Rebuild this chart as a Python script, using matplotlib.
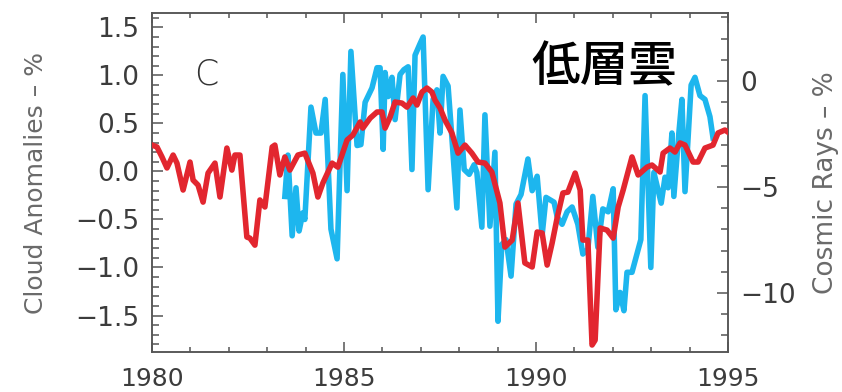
import matplotlib
matplotlib.use("Agg")
import matplotlib.pyplot as plt
from matplotlib.ticker import MultipleLocator

# cloud anomalies (%), left axis
cloud_year = [1983.46, 1983.54, 1983.65, 1983.75, 1983.83, 1983.93, 1983.98, 1984.14, 1984.27, 1984.40,
              1984.51, 1984.66, 1984.82, 1984.97, 1985.08, 1985.18, 1985.34, 1985.44, 1985.55, 1985.73,
              1985.86, 1985.94, 1986.02, 1986.07, 1986.15, 1986.25, 1986.33, 1986.46, 1986.56, 1986.67,
              1986.77, 1986.85, 1986.98, 1987.06, 1987.19, 1987.32, 1987.42, 1987.50, 1987.58, 1987.71,
              1987.81, 1987.94, 1988.02, 1988.13, 1988.26, 1988.39, 1988.46, 1988.59, 1988.67, 1988.80,
              1988.93, 1989.01, 1989.11, 1989.22, 1989.35, 1989.48, 1989.61, 1989.79, 1989.90, 1990.03,
              1990.16, 1990.26, 1990.47, 1990.55, 1990.68, 1990.81, 1990.94, 1991.09, 1991.22, 1991.35,
              1991.48, 1991.61, 1991.74, 1991.88, 1992.01, 1992.08, 1992.19, 1992.29, 1992.37, 1992.50,
              1992.73, 1992.84, 1992.99, 1993.07, 1993.26, 1993.36, 1993.44, 1993.54, 1993.59, 1993.72,
              1993.80, 1993.88, 1994.04, 1994.14, 1994.27, 1994.40, 1994.53, 1994.61]
cloud_anom = [-0.26, 0.17, -0.67, -0.17, -0.62, -0.43, -0.50, 0.67, 0.40, 0.40,
              0.75, -0.60, -0.91, 1.01, -0.20, 1.25, 0.27, 0.28, 0.72, 0.87,
              1.08, 1.08, 0.23, 1.03, 0.78, 0.98, 0.54, 1.01, 1.06, 1.09,
              0.02, 1.21, 1.33, 1.40, -0.19, 0.75, 0.85, 0.40, 0.99, 0.89,
              0.35, -0.38, 0.64, 0.02, -0.03, 0.07, -0.01, -0.58, 0.59, -0.57,
              0.20, -1.56, -0.76, -0.71, -1.09, -0.34, -0.24, 0.13, -0.20, -0.05,
              -0.66, -0.27, -0.32, -0.47, -0.55, -0.42, -0.37, -0.55, -0.86, -0.81,
              -0.26, -0.79, -0.39, -0.42, -0.18, -1.44, -1.26, -1.45, -1.05, -1.05,
              -0.71, 0.79, -1.00, -0.01, -0.33, -0.06, -0.17, 0.40, -0.26, 0.40,
              0.75, -0.21, 0.90, 0.98, 0.79, 0.75, 0.57, 0.35]

# cosmic rays (%), right axis
cosmic_year = [1980.00, 1980.13, 1980.26, 1980.39, 1980.55, 1980.65, 1980.81, 1980.99, 1981.07, 1981.20,
               1981.33, 1981.46, 1981.64, 1981.77, 1981.95, 1982.08, 1982.16, 1982.29, 1982.47, 1982.55,
               1982.68, 1982.81, 1982.94, 1983.13, 1983.20, 1983.33, 1983.46, 1983.59, 1983.80, 1983.98,
               1984.19, 1984.32, 1984.45, 1984.69, 1984.84, 1985.08, 1985.23, 1985.42, 1985.49, 1985.68,
               1985.86, 1985.99, 1986.07, 1986.20, 1986.33, 1986.51, 1986.64, 1986.80, 1986.90, 1987.03,
               1987.16, 1987.29, 1987.37, 1987.50, 1987.63, 1987.81, 1987.97, 1988.15, 1988.33, 1988.49,
               1988.67, 1988.85, 1989.06, 1989.19, 1989.38, 1989.53, 1989.71, 1989.90, 1990.03, 1990.16,
               1990.29, 1990.42, 1990.55, 1990.70, 1990.83, 1991.02, 1991.15, 1991.22, 1991.35, 1991.46,
               1991.54, 1991.67, 1991.85, 1992.01, 1992.14, 1992.27, 1992.50, 1992.66, 1992.89, 1993.02,
               1993.23, 1993.31, 1993.49, 1993.62, 1993.75, 1993.88, 1994.09, 1994.22, 1994.40, 1994.61,
               1994.74, 1994.92, 1995.00]
cosmic_pct = [-3.02, -3.11, -3.58, -4.10, -3.49, -3.87, -5.14, -3.82, -4.67, -4.91,
              -5.71, -4.34, -3.87, -5.47, -3.16, -4.20, -3.49, -3.49, -7.36, -7.41,
              -7.74, -5.61, -5.94, -3.11, -3.02, -4.43, -3.58, -4.20, -3.49, -3.40,
              -4.34, -5.47, -4.81, -3.87, -4.06, -2.78, -2.55, -1.93, -2.22, -1.75,
              -1.46, -1.46, -2.22, -1.70, -0.99, -1.04, -1.23, -0.80, -1.13, -0.52,
              -0.33, -0.52, -0.90, -1.27, -1.84, -2.45, -3.40, -3.02, -3.40, -3.82,
              -3.87, -4.29, -5.75, -7.83, -7.50, -5.75, -8.58, -8.77, -7.12, -7.17,
              -8.68, -7.64, -6.46, -5.28, -5.24, -4.34, -5.14, -7.50, -7.50, -12.45,
              -12.22, -6.93, -7.03, -7.41, -5.94, -5.14, -3.58, -4.43, -4.06, -3.96,
              -4.29, -3.40, -3.16, -3.35, -2.92, -3.02, -3.82, -3.82, -3.16, -3.02,
              -2.45, -2.31, -2.41]

year_ticks = [1980, 1985, 1990, 1995]

tick_col = "#3c3c3c"
label_col = "#6a6a6a"
spine_col = "#555555"

fig = plt.figure(figsize=(8.42, 3.92), dpi=100)
ax = fig.add_axes([152 / 842, 1 - 352 / 392, 576 / 842, 339 / 392])
ax2 = ax.twinx()

ax.plot(cloud_year, cloud_anom, color="#1db6ee", lw=4.0, zorder=2)
ax2.plot(cosmic_year, cosmic_pct, color="#e2262f", lw=4.0, zorder=3)

ax.set_xlim(1980, 1995)
ax.set_ylim(-1.88, 1.65)
ax2.set_ylim(-12.78, 3.21)

ax.set_xticks(year_ticks)
ax.xaxis.set_minor_locator(MultipleLocator(1))
ax.yaxis.set_major_locator(MultipleLocator(0.5))
ax.yaxis.set_minor_locator(MultipleLocator(0.1))
ax.yaxis.set_major_formatter(lambda v, p: f"{v:.1f}".replace("-", "\u2212"))
ax2.yaxis.set_major_locator(MultipleLocator(5))
ax2.yaxis.set_minor_locator(MultipleLocator(1))

for a in (ax, ax2):
    for s in a.spines.values():
        s.set_color(spine_col)
        s.set_linewidth(1.1)

ax.tick_params(axis="y", which="major", direction="in", length=8, width=1.1,
               color=spine_col, labelsize=19, labelcolor=tick_col, pad=9)
ax.tick_params(axis="y", which="minor", direction="in", length=5, width=1.1, color=spine_col)
ax.tick_params(axis="x", which="major", direction="in", length=7, width=1.1, top=True,
               color=spine_col, labelsize=18, labelcolor=tick_col, pad=11)
ax.tick_params(axis="x", which="minor", direction="in", length=3.5, width=1.1, top=True, color=spine_col)
ax2.tick_params(axis="y", which="major", direction="in", length=8, width=1.1,
                color=spine_col, labelsize=19, labelcolor=tick_col, pad=9)
ax2.tick_params(axis="y", which="minor", direction="in", length=5, width=1.1, color=spine_col)

ax.set_ylabel("Cloud Anomalies \u2013 %", fontsize=18, color=label_col, labelpad=20)
ax2.set_ylabel("Cosmic Rays \u2013 %", fontsize=19, color=label_col, labelpad=12, rotation=90)

ax.text(1981.4, 1.01, "C", fontsize=25, color="#333333", ha="center", va="center", fontweight=200)
ax.text(1991.77, 1.08, "低層雲", fontsize=35, color="black", ha="center", va="center",
        family=["Noto Sans CJK JP", "DejaVu Sans"], fontweight="medium")

fig.savefig("out.png", dpi=100)
